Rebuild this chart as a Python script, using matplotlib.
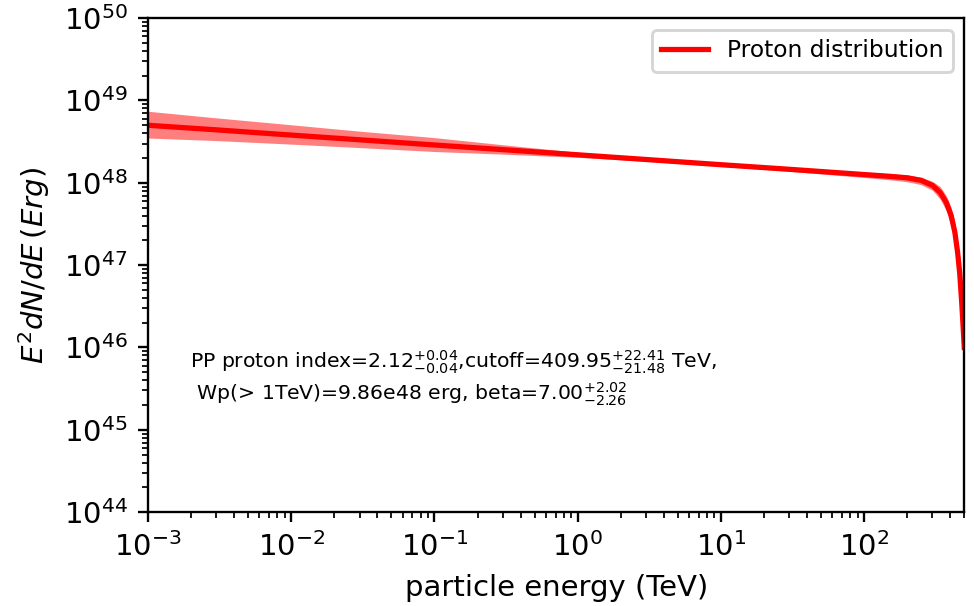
import numpy as np
import matplotlib.pyplot as plt

# proton spectrum, E in TeV, E^2 dN/dE in erg
energy = [1e-3, 3e-3, 1e-2, 3e-2, 1e-1, 3e-1, 1, 3, 10, 30, 100, 150, 200,
          250, 300, 340, 375, 405, 430, 450, 465, 480, 490, 500]
e2dnde = [5.0e48, 4.4e48, 3.8e48, 3.33e48, 2.88e48, 2.53e48, 2.19e48, 1.92e48,
          1.66e48, 1.46e48, 1.26e48, 1.20e48, 1.15e48, 1.07e48, 9.3e47, 7.6e47,
          5.75e47, 4.0e47, 2.5e47, 1.4e47, 7.9e46, 3.5e46, 1.9e46, 1.0e46]
e2dnde_hi = [7.4e48, 6.15e48, 5.07e48, 4.24e48, 3.54e48, 2.90e48, 2.35e48, 2.01e48,
             1.74e48, 1.55e48, 1.35e48, 1.29e48, 1.25e48, 1.17e48, 1.04e48, 9.0e47,
             6.9e47, 5.0e47, 3.3e47, 1.93e47, 1.14e47, 5.3e46, 2.93e46, 1.58e46]
e2dnde_lo = [3.5e48, 3.26e48, 2.95e48, 2.68e48, 2.40e48, 2.23e48, 2.04e48, 1.83e48,
             1.58e48, 1.38e48, 1.16e48, 1.09e48, 1.03e48, 9.5e47, 8.1e47, 6.3e47,
             4.57e47, 2.96e47, 1.73e47, 9.0e46, 4.76e46, 1.97e46, 1.02e46, 5.0e45]

fit_text = (r'PP proton index=$2.12^{+0.04}_{-0.04}$,cutoff=$409.95^{+22.41}_{-21.48}$ TeV,'
            '\n' r' Wp(> 1TeV)=9.86e48 erg, beta=$7.00^{+2.02}_{-2.26}$')

fig = plt.figure(figsize=(974 / 210, 606 / 210), dpi=210)
ax = fig.add_axes([0.152, 0.155, 0.838, 0.815])

ax.fill_between(energy, e2dnde_lo, e2dnde_hi, color='red', alpha=0.5, lw=0)
ax.plot(energy, e2dnde, color='red', lw=1.8, label='Proton distribution')

ax.set_xscale('log')
ax.set_yscale('log')
ax.set_xlim(1e-3, 500)
ax.set_ylim(1e44, 1e50)
ax.set_xlabel('particle energy (TeV)')
ax.set_ylabel(r'$E^2dN/dE\,(Erg)$')

ax.text(0.051, 0.33, fit_text, transform=ax.transAxes, fontsize=7, va='top')
ax.legend(loc='upper right', fontsize=8)

fig.savefig('out.png', dpi=210)
